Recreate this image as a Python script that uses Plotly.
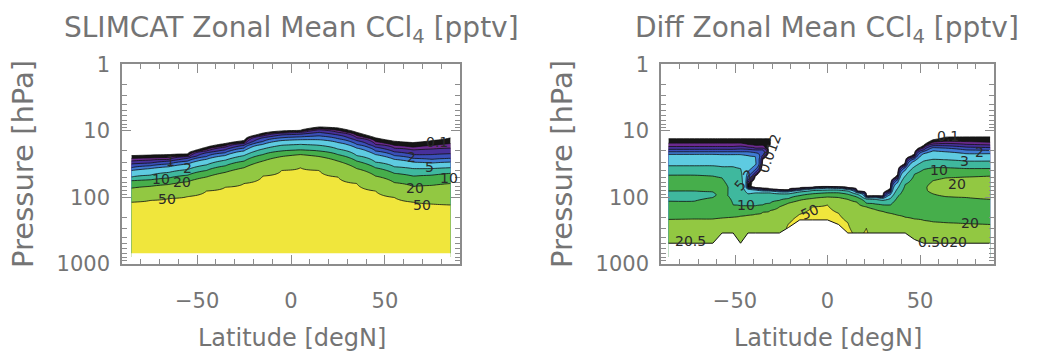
import numpy as np
import plotly.graph_objects as go

# ---------------- contour levels and band colours ----------------
LEVELS = [0.1, 0.2, 0.5, 1, 2, 5, 10, 20, 50]
BAND_COLORS = ['#151515', '#6b2a8e', '#47309a', '#3a4fb8', '#3f7bd3',
               '#5ecbe1', '#3fb89e', '#46ae4b', '#92c842', '#f0e63c']

# ---------------- SLIMCAT panel: pressure (hPa) of each level per latitude ----------------
SLIM_LAT = [-85, -75, -65, -55, -45, -35, -25, -15, -5, 5, 15, 25, 35, 45, 55, 65, 75, 85]
SLIM_P_TOP = [23.7, 23.3, 22.9, 22.2, 17.7, 15.6, 14.1, 10.9, 10.1, 9.9, 8.8, 9.1, 10.6, 12.8, 14.4, 15.1, 14.1, 12.8]
SLIM_P_0_1 = [26.1, 25.7, 25.3, 24.1, 19.2, 16.9, 15.3, 11.6, 10.7, 10.4, 9.4, 9.9, 11.8, 14.6, 16.6, 17.7, 16.6, 15.6]
SLIM_P_0_2 = [28.7, 27.8, 27.0, 24.5, 20.2, 17.7, 15.6, 12.0, 10.9, 10.6, 9.7, 10.6, 12.8, 16.1, 18.3, 19.5, 18.9, 18.3]
SLIM_P_0_5 = [31.7, 30.7, 28.7, 26.1, 21.5, 19.5, 16.6, 12.8, 11.6, 11.3, 10.6, 11.6, 14.1, 17.7, 20.8, 22.9, 22.9, 22.2]
SLIM_P_1 = [36.1, 33.8, 31.7, 28.7, 24.5, 21.5, 18.3, 14.6, 12.8, 12.4, 12.0, 13.2, 16.1, 20.2, 23.7, 26.1, 27.0, 26.1]
SLIM_P_2 = [39.7, 37.2, 34.9, 31.7, 27.0, 23.7, 20.2, 16.1, 14.1, 13.7, 13.7, 15.1, 18.3, 22.9, 27.0, 29.7, 30.7, 29.7]
SLIM_P_5 = [49.8, 46.7, 42.4, 38.4, 32.7, 27.8, 23.7, 18.9, 16.6, 16.1, 16.6, 18.9, 23.7, 29.7, 34.9, 37.2, 37.2, 36.1]
SLIM_P_10 = [56.6, 54.8, 51.4, 46.7, 39.7, 33.8, 28.7, 22.9, 20.2, 19.5, 20.2, 22.9, 28.7, 36.1, 43.8, 48.2, 46.7, 43.8]
SLIM_P_20 = [73.3, 68.8, 64.5, 58.5, 49.8, 42.4, 36.1, 28.7, 24.5, 22.9, 24.5, 28.7, 37.2, 48.2, 60.4, 68.8, 66.6, 62.4]
SLIM_P_50 = [119, 112, 105, 98, 80.8, 71.0, 62.4, 48.2, 39.7, 36.1, 39.7, 49.8, 62.4, 80.8, 101, 119, 127, 131]
SLIM_P_BOTTOM = [700] * 18
SLIM_V_BOTTOM = [90] * 18

# contour labels as printed on the reference (lat, hPa, text)
SLIM_LABEL_LAT = [-64, -55, -69, -58, -66, 78, 64, 74, 84, 66, 70]
SLIM_LABEL_P = [28.7, 36, 54, 60, 107, 14.8, 25.3, 34.9, 51.4, 72, 130]
SLIM_LABEL_TXT = ['1', '2', '10', '20', '50', '0.1', '2', '5', '10', '20', '50']

# ---------------- Diff panel: vertical profiles (pressure hPa, pptv) per latitude ----------------
DIFF_LAT = [-86, -72, -62, -57, -51, -47, -43, -39, -35, -31, -26, -21, -15, -8, 0, 6, 11, 16,
            21, 26, 30, 34, 38, 42, 47, 52, 57, 64, 75, 88]
DIFF_PROFILES = [
    [[(13.2, 0), (15.4, 0.1), (17.3, 0.2), (19.1, 0.5), (20.8, 1), (22.7, 2), (33.8, 5), (46.7, 10), (62.4, 15), (80.8, 10), (94.9, 7), (115, 10), (216, 20), (493, 30)]],
    [[(13.2, 0), (15.4, 0.1), (17.3, 0.2), (19.1, 0.5), (20.8, 1), (22.7, 2), (33.8, 5), (46.7, 10), (62.4, 15), (80.8, 10), (94.9, 7.5), (115, 10), (213, 20), (493, 30)]],
    [[(13.2, 0), (15.4, 0.1), (17.3, 0.2), (19.1, 0.5), (20.8, 1), (22.7, 2), (33.8, 5), (48.2, 10), (66.6, 14), (83.4, 10), (91.9, 9.3), (101.3, 10), (119, 13), (213, 20), (493, 30)]],
    [[(13.2, 0), (15.4, 0.1), (17.3, 0.2), (19.1, 0.5), (20.8, 1), (22.9, 2), (34.9, 5), (51.4, 10), (71, 12), (94.9, 11), (123, 13), (206, 20), (346, 28)]],
    [[(13.2, 0), (15.4, 0.1), (17.3, 0.2), (19.1, 0.5), (20.8, 1), (22.9, 2), (34.9, 5), (64.5, 8), (131, 10), (200, 20), (346, 28)]],
    [[(13.2, 0), (15.4, 0.1), (17.1, 0.2), (18.9, 0.5), (20.8, 1), (22.9, 2), (37.2, 5), (64.5, 7), (135, 10), (193, 20), (493, 28)]],
    [[(13.2, 0), (16.1, 0.1), (17.7, 0.2), (19.1, 0.5), (20.8, 1), (23.7, 2), (34.9, 3), (48.2, 1), (58.5, 0.2), (66.6, 0.05), (70, 0.05), (73.3, 0.5), (75.7, 2), (89, 5), (135, 10), (187, 20), (346, 27)]],
    [[(13.2, 0), (16.6, 0.1), (18.3, 0.2), (19.5, 0.5), (21.5, 1), (24.5, 2), (31.7, 2.2), (38.4, 1), (43.8, 0.3), (48.2, 0)],
     [(72, 0), (73.3, 0.3), (75.7, 1), (78.2, 2), (86.2, 5), (135, 10), (181, 20), (346, 26)]],
    [[(13.2, 0), (16.6, 0.1), (18.3, 0.2), (19.5, 0.5), (21.5, 0.8), (24.5, 0.3), (27, 0)],
     [(73, 0), (75.7, 0.3), (78.2, 1), (80.8, 2), (86.2, 5), (131, 10), (169, 20), (346, 25)]],
    [[(13.2, 0), (15.4, 0.05), (16.6, 0)],
     [(75.7, 0), (77, 0.3), (79, 1), (81, 2), (86.2, 5), (123, 10), (159, 20), (346, 24)]],
    [[(77, 0), (78.2, 0.3), (80.8, 1), (83.4, 2), (89, 5), (112, 10), (140, 20), (346, 35)]],
    [[(77.5, 0), (79, 0.3), (80.8, 1), (83.4, 2), (89, 5), (105, 10), (123, 20), (250, 50), (285, 55)]],
    [[(73, 0), (74.5, 0.3), (76.9, 1), (79.5, 2), (83.4, 5), (94.9, 10), (111.6, 20), (181, 50), (220, 60)]],
    [[(71, 0), (72, 0.3), (74, 1), (75.7, 2), (79.5, 5), (89, 10), (104.6, 20), (140, 50), (220, 65)]],
    [[(69.5, 0), (70.5, 0.3), (72, 1), (73.5, 2), (78.2, 5), (86.2, 10), (99.7, 20), (131, 50), (220, 65)]],
    [[(70, 0), (71, 0.3), (72.5, 1), (74, 2), (78.2, 5), (86.2, 10), (101.3, 20), (175, 50), (258, 60)]],
    [[(72, 0), (73.3, 0.3), (75, 1), (77, 2), (80.8, 5), (90.5, 10), (108, 20), (242, 50), (346, 55)]],
    [[(80.8, 0), (82, 0.3), (84, 1), (86.2, 2), (90.5, 5), (99.7, 10), (119, 20), (346, 45)]],
    [[(95.8, 0), (97.5, 0.3), (100, 1), (102.5, 2), (106.5, 5), (123, 10), (140, 20), (294, 50), (346, 52)]],
    [[(95.8, 0), (97.5, 0.3), (100, 1), (102.5, 2), (108, 5), (127, 10), (154, 20), (346, 40)]],
    [[(95.8, 0), (98.1, 0.3), (101.3, 1), (104.6, 2), (111.6, 5), (131, 10), (164, 20), (346, 35)]],
    [[(73.3, 0), (78.2, 0.1), (82, 0.3), (86.2, 1), (91.9, 2), (104.6, 5), (131, 10), (175, 20), (346, 32)]],
    [[(45.2, 0), (48.2, 0.1), (51.4, 0.3), (54.8, 1), (60.4, 2), (73.3, 5), (98.1, 10), (187, 20), (346, 30)]],
    [[(30.2, 0), (32.2, 0.1), (33.8, 0.3), (36.1, 1), (39.7, 2), (48.2, 5), (64.5, 10), (200, 20), (346, 28)]],
    [[(22.4, 0), (23.9, 0.1), (24.9, 0.3), (26.6, 1), (28.7, 2), (34.9, 5), (45.2, 10), (75.7, 14), (104.6, 14), (213, 20), (433, 30)]],
    [[(16.6, 0), (17.7, 0.1), (18.6, 0.3), (19.5, 0.5), (20.5, 1), (22.2, 2), (28.7, 5), (38.4, 10), (64.5, 18), (80.8, 19), (104.6, 17), (224, 20), (493, 30)]],
    [[(13.7, 0), (14.9, 0.1), (15.9, 0.2), (16.9, 0.5), (18, 1), (20.2, 2), (27, 5), (36.1, 10), (56.6, 20), (71, 23), (89, 20), (123, 15), (235, 20), (493, 30)]],
    [[(12.5, 0), (14.4, 0.1), (15.6, 0.2), (16.9, 0.5), (18.3, 1), (20.8, 2), (27.4, 5), (36.1, 10), (51.4, 20), (71, 28), (98.1, 20), (135, 14), (242, 20), (493, 30)]],
    [[(12.4, 0), (14.6, 0.1), (16.1, 0.2), (17.7, 0.5), (19.5, 1), (22.2, 2), (28.7, 5), (37.2, 10), (49.8, 20), (71, 30), (101.3, 20), (144, 14), (250, 20), (493, 30)]],
    [[(12.4, 0), (14.9, 0.1), (16.4, 0.2), (18, 0.5), (19.8, 1), (22.2, 2), (28.7, 5), (37.2, 10), (48.2, 20), (71, 30), (108, 20), (154, 14), (258, 20), (493, 30)]],
]

DIFF_LABEL_LAT = [65, 74, 82, 60, 70, 77, -44, -9.5, -45, -31, -74, 62]
DIFF_LABEL_P = [12.2, 28.7, 20.8, 39.7, 62.4, 248, 130, 170, 55, 22, 455, 470]
DIFF_LABEL_TXT = ['0.1', '3', '2', '10', '20', '20', '10', '50', '5.2', '0.012', '20.5', '0.5020']
DIFF_LABEL_ANGLE = [0, 0, 0, 0, 0, 0, 0, -25, -50, -70, 0, 0]

# ---------------- grid construction ----------------
LOGP = np.linspace(0.8, 2.9, 351)
P_GRID = 10 ** LOGP
EDGE_SLOPE = 2.0  # value per decade outside the data (gives a smooth zero line at the data edge)


def build_column(segments):
    segs = []
    for s in segments:
        lp = np.log10([p for p, _ in s])
        v = np.array([val for _, val in s], dtype=float)
        segs.append((lp, v))
    bottom = segs[-1][0][-1]
    edges = []
    for i, (lp, v) in enumerate(segs):
        edges.append(lp[0])
        if i < len(segs) - 1:
            edges.append(lp[-1])
    out = np.empty_like(LOGP)
    for k, L in enumerate(LOGP):
        val = None
        for lp, v in segs:
            if lp[0] <= L <= lp[-1]:
                val = np.interp(L, lp, v)
                break
        if val is None:
            if L > bottom:
                val = segs[-1][1][-1]
            else:
                val = -EDGE_SLOPE * min(abs(L - e) for e in edges)
        out[k] = val
    return out


slim_profiles = []
for j in range(len(SLIM_LAT)):
    slim_profiles.append([[
        (SLIM_P_TOP[j], 0), (SLIM_P_0_1[j], 0.1), (SLIM_P_0_2[j], 0.2), (SLIM_P_0_5[j], 0.5),
        (SLIM_P_1[j], 1), (SLIM_P_2[j], 2), (SLIM_P_5[j], 5), (SLIM_P_10[j], 10),
        (SLIM_P_20[j], 20), (SLIM_P_50[j], 50), (SLIM_P_BOTTOM[j], SLIM_V_BOTTOM[j])]])

Z_SLIM = np.column_stack([build_column(p) for p in slim_profiles])
Z_DIFF = np.column_stack([build_column(p) for p in DIFF_PROFILES])
DIFF_P_BOTTOM = [prof[-1][-1][0] for prof in DIFF_PROFILES]

fig = go.Figure()


def add_panel(lat, z, xa, ya):
    values = [0] + LEVELS
    for i, val in enumerate(values):
        # a constraint shades the region that fails the operation,
        # so '<' shades everything above the level value
        fig.add_trace(go.Contour(
            x=lat, y=P_GRID, z=z, xaxis=xa, yaxis=ya,
            contours=dict(type='constraint', operation='<', value=val, showlabels=False),
            fillcolor=BAND_COLORS[i],
            line=dict(color='#111111', width=0.8),
            showscale=False, hoverinfo='skip'))


add_panel(SLIM_LAT, Z_SLIM, 'x', 'y')
add_panel(DIFF_LAT, Z_DIFF, 'x2', 'y2')

# blank out below the lower data boundary
fig.add_trace(go.Scatter(x=SLIM_LAT + [SLIM_LAT[-1], SLIM_LAT[0]],
                         y=SLIM_P_BOTTOM + [1000, 1000], fill='toself', fillcolor='white',
                         mode='lines', line=dict(width=0), xaxis='x', yaxis='y', hoverinfo='skip'))
fig.add_trace(go.Scatter(x=DIFF_LAT + [DIFF_LAT[-1], DIFF_LAT[0]],
                         y=DIFF_P_BOTTOM + [1000, 1000], fill='toself', fillcolor='white',
                         mode='lines', line=dict(width=0), xaxis='x2', yaxis='y2', hoverinfo='skip'))
fig.add_trace(go.Scatter(x=DIFF_LAT, y=DIFF_P_BOTTOM, mode='lines',
                         line=dict(color='#111111', width=1), xaxis='x2', yaxis='y2', hoverinfo='skip'))

W, H = 1042, 353
AX_COLOR = '#8c8c8c'
TXT_COLOR = '#747474'
FONT = 'DejaVu Sans'

xcommon = dict(range=[-90, 90], tickmode='linear', tick0=0, dtick=50,
               showline=True, linecolor=AX_COLOR, linewidth=1.5, mirror='allticks',
               ticks='inside', ticklen=9, tickwidth=1.2, tickcolor=AX_COLOR,
               minor=dict(dtick=10, ticks='inside', ticklen=5, tickcolor=AX_COLOR, showgrid=False),
               showgrid=False, zeroline=False, ticklabelstandoff=17,
               tickfont=dict(family=FONT, size=21, color=TXT_COLOR))
ycommon = dict(type='log', range=[3, 0], dtick=1, exponentformat='none',
               showline=True, linecolor=AX_COLOR, linewidth=1.5, mirror='allticks',
               ticks='inside', ticklen=9, tickwidth=1.2, tickcolor=AX_COLOR,
               minor=dict(dtick='D1', ticks='inside', ticklen=5, tickcolor=AX_COLOR, showgrid=False),
               showgrid=False, zeroline=False, ticklabelstandoff=6,
               tickfont=dict(family=FONT, size=21, color=TXT_COLOR))

ydom = [1 - 270 / H, 1 - 56 / H]
fig.update_layout(
    width=W, height=H, margin=dict(l=0, r=0, t=0, b=0),
    paper_bgcolor='white', plot_bgcolor='white', showlegend=False,
    xaxis=dict(domain=[122 / W, 460 / W], anchor='y', **xcommon),
    yaxis=dict(domain=ydom, anchor='x', **ycommon),
    xaxis2=dict(domain=[661 / W, 994 / W], anchor='y2', **xcommon),
    yaxis2=dict(domain=ydom, anchor='x2', **ycommon),
)

# contour labels
LABEL_FONT = dict(family=FONT, size=14, color='#2a2a2a')
for la, p, t in zip(SLIM_LABEL_LAT, SLIM_LABEL_P, SLIM_LABEL_TXT):
    fig.add_annotation(text=t, x=la, y=np.log10(p), xref='x', yref='y', showarrow=False,
                       font=LABEL_FONT)
for la, p, t, ang in zip(DIFF_LABEL_LAT, DIFF_LABEL_P, DIFF_LABEL_TXT, DIFF_LABEL_ANGLE):
    fig.add_annotation(text=t, x=la, y=np.log10(p), xref='x2', yref='y2', showarrow=False,
                       textangle=ang, font=LABEL_FONT)

annots = [
    dict(text='SLIMCAT Zonal Mean CCl<sub>4</sub> [pptv]', x=291 / W, y=1 - 19 / H, size=28),
    dict(text='Diff Zonal Mean CCl<sub>4</sub> [pptv]', x=827 / W, y=1 - 19 / H, size=28),
    dict(text='Latitude [degN]', x=292 / W, y=1 - 350 / H, size=24),
    dict(text='Latitude [degN]', x=828 / W, y=1 - 350 / H, size=24),
]
for a in annots:
    fig.add_annotation(text=a['text'], x=a['x'], y=a['y'], xref='paper', yref='paper',
                       xanchor='center', yanchor='middle', showarrow=False,
                       font=dict(family=FONT, size=a['size'], color=TXT_COLOR))
for xp in [23, 562]:
    fig.add_annotation(text='Pressure [hPa]', x=xp / W, y=1 - 163 / H, xref='paper', yref='paper',
                       xanchor='center', yanchor='middle', showarrow=False, textangle=-90,
                       font=dict(family=FONT, size=29, color=TXT_COLOR))

fig.write_html('out.html')
